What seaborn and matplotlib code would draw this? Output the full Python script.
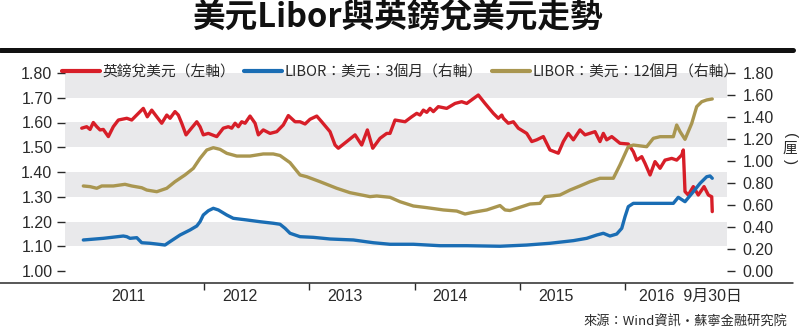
import matplotlib
matplotlib.use("Agg")
import matplotlib.pyplot as plt
from matplotlib.lines import Line2D
from matplotlib.font_manager import FontProperties
import pandas as pd
import seaborn as sns

# ---------------- data (decimal years, values) ----------------
gbp_dates = [2010.838, 2010.885, 2010.917, 2010.948, 2010.981, 2011.012, 2011.043, 2011.091,
             2011.138, 2011.186, 2011.266, 2011.313, 2011.376, 2011.423, 2011.461, 2011.503,
             2011.551, 2011.598, 2011.646, 2011.677, 2011.724, 2011.756, 2011.788, 2011.829,
             2011.867, 2011.931, 2011.962, 2011.993, 2012.041, 2012.121, 2012.183, 2012.231,
             2012.263, 2012.295, 2012.326, 2012.358, 2012.390, 2012.437, 2012.485, 2012.516,
             2012.563, 2012.627, 2012.691, 2012.753, 2012.801, 2012.865, 2012.912, 2012.960,
             2013.007, 2013.071, 2013.118, 2013.197, 2013.245, 2013.276, 2013.356, 2013.435,
             2013.498, 2013.552, 2013.603, 2013.672, 2013.736, 2013.767, 2013.815, 2013.910,
             2013.973, 2014.021, 2014.052, 2014.084, 2014.116, 2014.147, 2014.179, 2014.226,
             2014.306, 2014.385, 2014.448, 2014.496, 2014.606, 2014.670, 2014.749, 2014.796,
             2014.829, 2014.844, 2014.891, 2014.939, 2014.986, 2015.066, 2015.114, 2015.161,
             2015.224, 2015.287, 2015.366, 2015.414, 2015.461, 2015.509, 2015.572, 2015.620,
             2015.715, 2015.762, 2015.794, 2015.826, 2015.874, 2015.952, 2016.031, 2016.079,
             2016.111, 2016.159, 2016.190, 2016.238, 2016.285, 2016.333, 2016.380, 2016.444,
             2016.491, 2016.539, 2016.554, 2016.570, 2016.601, 2016.649, 2016.696, 2016.751,
             2016.792, 2016.824, 2016.829]
gbp_values = [1.577, 1.583, 1.572, 1.600, 1.583, 1.570, 1.572, 1.543,
              1.583, 1.610, 1.617, 1.610, 1.637, 1.657, 1.623, 1.650,
              1.623, 1.597, 1.630, 1.617, 1.644, 1.630, 1.597, 1.550,
              1.570, 1.603, 1.583, 1.550, 1.556, 1.543, 1.577, 1.583,
              1.577, 1.597, 1.583, 1.603, 1.597, 1.626, 1.597, 1.550,
              1.570, 1.556, 1.563, 1.590, 1.628, 1.603, 1.603, 1.594,
              1.613, 1.626, 1.603, 1.563, 1.509, 1.496, 1.523, 1.550,
              1.509, 1.570, 1.496, 1.536, 1.556, 1.556, 1.610, 1.603,
              1.623, 1.637, 1.630, 1.650, 1.641, 1.657, 1.644, 1.664,
              1.657, 1.677, 1.684, 1.677, 1.711, 1.677, 1.637, 1.617,
              1.630, 1.617, 1.597, 1.603, 1.577, 1.556, 1.523, 1.530,
              1.543, 1.489, 1.476, 1.523, 1.556, 1.530, 1.570, 1.550,
              1.563, 1.523, 1.556, 1.530, 1.543, 1.516, 1.513, 1.482,
              1.448, 1.462, 1.435, 1.388, 1.442, 1.415, 1.448, 1.455,
              1.448, 1.469, 1.489, 1.321, 1.307, 1.341, 1.307, 1.341,
              1.307, 1.300, 1.240]

libor3m_dates = [2010.853, 2011.043, 2011.233, 2011.266, 2011.297, 2011.361, 2011.408, 2011.487,
                 2011.551, 2011.629, 2011.677, 2011.772, 2011.867, 2011.931, 2011.962, 2011.993,
                 2012.041, 2012.088, 2012.136, 2012.216, 2012.278, 2012.406, 2012.532, 2012.658,
                 2012.722, 2012.770, 2012.817, 2012.912, 2013.038, 2013.197, 2013.419, 2013.609,
                 2013.767, 2013.989, 2014.242, 2014.496, 2014.812, 2015.066, 2015.287, 2015.509,
                 2015.636, 2015.731, 2015.794, 2015.857, 2015.921, 2015.969, 2016.000, 2016.031,
                 2016.079, 2016.238, 2016.459, 2016.506, 2016.570, 2016.649, 2016.713, 2016.776,
                 2016.808, 2016.829]
libor3m_values = [0.282, 0.297, 0.318, 0.312, 0.297, 0.303, 0.257, 0.252,
                  0.245, 0.236, 0.267, 0.327, 0.373, 0.409, 0.448, 0.509,
                  0.548, 0.570, 0.555, 0.509, 0.479, 0.464, 0.448, 0.434,
                  0.425, 0.388, 0.343, 0.312, 0.306, 0.291, 0.282, 0.257,
                  0.243, 0.243, 0.230, 0.230, 0.225, 0.236, 0.252, 0.276,
                  0.297, 0.327, 0.343, 0.318, 0.336, 0.388, 0.494, 0.585,
                  0.615, 0.615, 0.615, 0.670, 0.630, 0.721, 0.797, 0.857,
                  0.864, 0.843]

libor12m_dates = [2010.853, 2010.917, 2010.981, 2011.028, 2011.138, 2011.249, 2011.313, 2011.408,
                  2011.456, 2011.551, 2011.646, 2011.724, 2011.819, 2011.898, 2011.962, 2012.026,
                  2012.088, 2012.152, 2012.216, 2012.311, 2012.437, 2012.563, 2012.658, 2012.722,
                  2012.817, 2012.912, 2012.976, 2013.102, 2013.261, 2013.387, 2013.577, 2013.641,
                  2013.767, 2013.862, 2013.989, 2014.116, 2014.274, 2014.401, 2014.480, 2014.559,
                  2014.686, 2014.812, 2014.860, 2014.907, 2014.971, 2015.097, 2015.192, 2015.240,
                  2015.382, 2015.477, 2015.572, 2015.667, 2015.762, 2015.889, 2015.952, 2016.031,
                  2016.079, 2016.206, 2016.269, 2016.333, 2016.459, 2016.491, 2016.523, 2016.570,
                  2016.634, 2016.681, 2016.729, 2016.776, 2016.829]
libor12m_values = [0.773, 0.767, 0.752, 0.773, 0.773, 0.788, 0.773, 0.757,
                   0.736, 0.721, 0.752, 0.812, 0.873, 0.933, 1.024, 1.100,
                   1.121, 1.106, 1.070, 1.045, 1.045, 1.064, 1.064, 1.050,
                   0.985, 0.873, 0.857, 0.812, 0.752, 0.712, 0.676, 0.682,
                   0.670, 0.630, 0.591, 0.576, 0.555, 0.545, 0.518, 0.534,
                   0.555, 0.595, 0.555, 0.550, 0.570, 0.609, 0.615, 0.676,
                   0.691, 0.736, 0.773, 0.812, 0.843, 0.843, 0.964, 1.130,
                   1.145, 1.130, 1.206, 1.221, 1.221, 1.327, 1.267, 1.197,
                   1.342, 1.494, 1.539, 1.555, 1.564]

left_ticks = [1.00, 1.10, 1.20, 1.30, 1.40, 1.50, 1.60, 1.70, 1.80]
right_ticks = [0.00, 0.20, 0.40, 0.60, 0.80, 1.00, 1.20, 1.40, 1.60, 1.80]
year_ticks = [2012, 2013, 2014, 2015, 2016]
year_label_pos = [2011.28, 2012.34, 2013.34, 2014.34, 2015.34, 2016.62]
year_labels = ["2011", "2012", "2013", "2014", "2015", "2016  9月30日"]
series_labels = ["英鎊兌美元（左軸）", "LIBOR：美元：3個月（右軸）", "LIBOR：美元：12個月（右軸）"]
title_text = "美元Libor與英鎊兌美元走勢"
source_text = "來源：Wind資訊‧蘇寧金融研究院"
unit_text = "厘"

# ---------------- style ----------------
sns.set_theme(style="white")
plt.rcParams["font.family"] = ["Liberation Sans", "Noto Sans CJK TC", "DejaVu Sans"]
CJK = ["Noto Sans CJK TC", "DejaVu Sans"]
MIX = ["Liberation Sans", "Noto Sans CJK TC", "DejaVu Sans"]

RED = "#d71e28"
BLUE = "#1a6db4"
GOLD = "#a99650"
BAND = "#e9e9eb"
INK = "#2a2a2a"

W, H = 800, 329
fig = plt.figure(figsize=(W / 100, H / 100), dpi=100)
fig.patch.set_facecolor("white")

ax_left, ax_right_px, ax_top, ax_bot = 65, 727, 73, 283
ax = fig.add_axes([ax_left / W, 1 - ax_bot / H, (ax_right_px - ax_left) / W, (ax_bot - ax_top) / H])
ax2 = ax.twinx()

y_lo = 1.0 - (ax_bot - 271) * 0.8 / 198
ax.set_ylim(y_lo, 1.80)
ax2.set_ylim((y_lo - 1.0) * 2.25, 1.80)
ax.set_xlim(2010.679, 2016.969)

# alternating bands
for lo, hi in zip(left_ticks[1::2], left_ticks[2::2]):
    ax.axhspan(lo, hi, color=BAND, lw=0, zorder=0)

gbp = pd.DataFrame({"date": gbp_dates, "value": gbp_values})
l3 = pd.DataFrame({"date": libor3m_dates, "value": libor3m_values})
l12 = pd.DataFrame({"date": libor12m_dates, "value": libor12m_values})

sns.lineplot(data=gbp, x="date", y="value", ax=ax, color=RED, lw=2.4, estimator=None, sort=False)
sns.lineplot(data=l3, x="date", y="value", ax=ax2, color=BLUE, lw=2.4, estimator=None, sort=False)
sns.lineplot(data=l12, x="date", y="value", ax=ax2, color=GOLD, lw=2.4, estimator=None, sort=False)

for a in (ax, ax2):
    for s in a.spines.values():
        s.set_visible(False)
    a.set_xlabel("")
    a.set_ylabel("")

ax.set_yticks(left_ticks)
ax.set_yticklabels([f"{v:.2f}" for v in left_ticks])
ax2.set_yticks(right_ticks)
ax2.set_yticklabels([f"{v:.2f}" for v in right_ticks])
ax.tick_params(axis="y", left=True, length=6, width=1, color=INK, pad=3,
               labelsize=11.5, labelcolor=INK)
ax2.tick_params(axis="y", right=True, length=6, width=1, color=INK, pad=5,
                labelsize=11.5, labelcolor=INK)

ax.set_xticks(year_ticks)
ax.set_xticklabels([])
ax.tick_params(axis="x", bottom=True, direction="out", length=5, width=1, color=INK)

xt = ax.get_xaxis_transform()
for pos, lab in zip(year_label_pos, year_labels):
    ax.text(pos, -0.062, lab, transform=xt, ha="center", va="center",
            fontsize=11.5, color=INK, family=MIX)

# x axis line across the figure
fig.add_artist(Line2D([0, 793 / W], [1 - ax_bot / H, 1 - ax_bot / H],
                      color=INK, lw=1.1, transform=fig.transFigure))

# title and rule
fig.text(397 / W, 1 - 17 / H, title_text, ha="center", va="center",
         fontsize=23.5, fontweight="bold", color="#111111", family=CJK)
fig.add_artist(Line2D([0, 793 / W], [1 - 49.5 / H, 1 - 49.5 / H],
                      color="#111111", lw=3.6, transform=fig.transFigure))

# legend
handles = [Line2D([], [], color=c, lw=3) for c in (RED, BLUE, GOLD)]
fig.legend(handles, series_labels, loc="center left",
           bbox_to_anchor=(62 / W, 1 - 72 / H), ncol=3, frameon=False,
           handlelength=2.6, handletextpad=0.15, columnspacing=0.6,
           borderpad=0, borderaxespad=0,
           prop=FontProperties(family=CJK, size=10.6), labelcolor=INK)

# unit label (vertical: rotated brackets around the character)
fig.text(790 / W, 1 - 136 / H, "(", rotation=-90, ha="center", va="center",
         fontsize=11, color=INK, family=MIX)
fig.text(790 / W, 1 - 149 / H, unit_text, ha="center", va="center",
         fontsize=10.5, color=INK, family=CJK)
fig.text(790 / W, 1 - 162 / H, ")", rotation=-90, ha="center", va="center",
         fontsize=11, color=INK, family=MIX)

# source
fig.text(787 / W, 1 - 322 / H, source_text, ha="right", va="center",
         fontsize=9.5, color=INK, family=CJK)

fig.savefig("out.png", dpi=100, facecolor="white")
